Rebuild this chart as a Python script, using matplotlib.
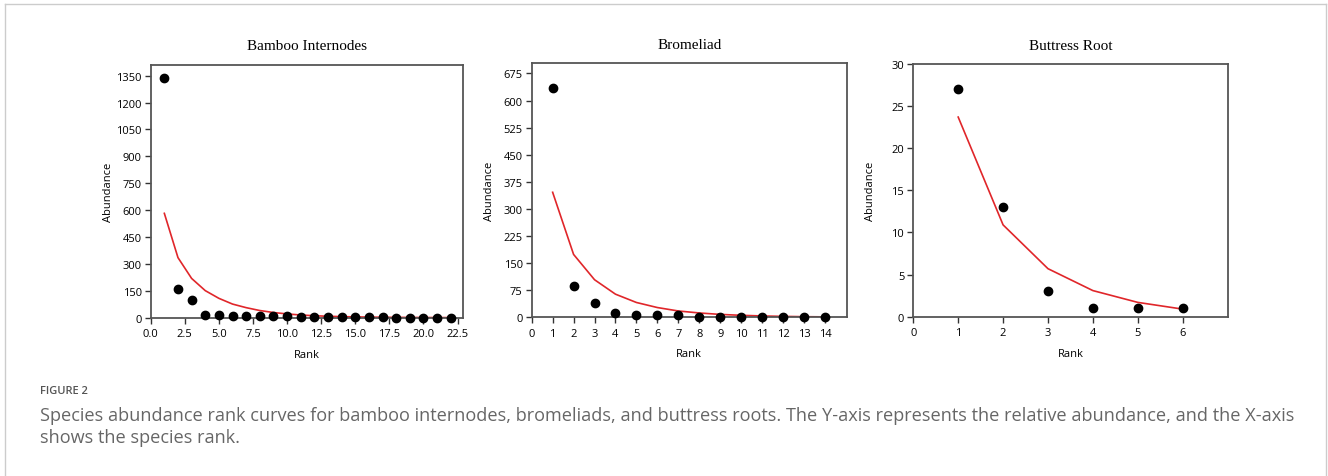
import numpy as np
import matplotlib
matplotlib.use("Agg")
import matplotlib.pyplot as plt
from matplotlib.lines import Line2D

plt.rcParams['font.family'] = ['Open Sans', 'DejaVu Sans']

# Bamboo internodes
bamboo_rank = list(range(1, 23))
bamboo_obs = [1335, 158, 100, 14, 13, 12, 11, 9, 8, 8, 4, 3, 3, 2, 2, 2, 2, 1, 1, 1, 1, 1]
bamboo_fit = [582, 335, 219, 151, 108, 76, 56, 40, 29, 21, 15, 11, 8, 6, 4.5, 3.3,
              2.5, 1.9, 1.4, 1.1, 0.8, 0.6]

# Bromeliad
brom_rank = list(range(1, 15))
brom_obs = [636, 87, 40, 11, 7, 5, 5, 2, 2, 1, 1, 1, 1, 1]
brom_fit = [346, 174, 104, 64, 41, 27, 17.5, 12, 8, 5.5, 3.7, 2.5, 1.7, 1.2]

# Buttress root
butt_rank = list(range(1, 7))
butt_obs = [27, 13, 3, 1, 1, 1]
butt_fit = [23.7, 10.9, 5.7, 3.1, 1.7, 0.9]

titles = ["Bamboo Internodes", "Bromeliad", "Buttress Root"]

W, H = 1328, 477
fig = plt.figure(figsize=(W / 100, H / 100), dpi=100)

# axes boxes in pixels: left, right, top, bottom
boxes = [(150.7, 463, 65.7, 318.7), (531.7, 846.7, 64.3, 318.3), (913.3, 1228, 65, 317.7)]

panels = [
    (bamboo_rank, bamboo_obs, bamboo_fit, (0, 22.9), np.arange(0, 22.6, 2.5), "{:.1f}",
     (0, 1411), np.arange(0, 1351, 150)),
    (brom_rank, brom_obs, brom_fit, (0, 15.04), np.arange(0, 15), "{:.0f}",
     (0, 703), np.arange(0, 676, 75)),
    (butt_rank, butt_obs, butt_fit, (0, 7.01), np.arange(0, 7), "{:.0f}",
     (0, 30), np.arange(0, 31, 5)),
]

spine_col = "#555555"
for (l, r, t, b), title, (rk, obs, fit, xl, xt, fmt, yl, yt) in zip(boxes, titles, panels):
    ax = fig.add_axes([l / W, (H - b) / H, (r - l) / W, (b - t) / H])
    ax.plot(rk, fit, color="#e0262a", lw=1.2, zorder=2)
    ax.plot(rk, obs, "o", color="black", ms=6, clip_on=False, zorder=3)
    ax.set_xlim(*xl)
    ax.set_ylim(*yl)
    ax.set_xticks(xt)
    ax.set_xticklabels([fmt.format(v) for v in xt])
    ax.set_yticks(yt)
    ax.tick_params(direction="out", length=4.5, width=1, color="#333333",
                   labelsize=8, pad=2)
    ax.tick_params(axis="x", pad=3)
    for s in ax.spines.values():
        s.set_color(spine_col)
        s.set_linewidth(1.3)
    ax.set_title(title, family="Liberation Serif", fontsize=11, pad=11)
    ax.set_xlabel("Rank", fontsize=8)
    ax.set_ylabel("Abundance", fontsize=8)
    ax.xaxis.set_label_coords(0.5, -31 / (b - t))
    ax.yaxis.set_label_coords(-37 / (r - l), 0.5)

# caption
fig.text(40 / W, 1 - 392 / H, "FIGURE 2", fontsize=8, color="#555555",
         weight="semibold", va="center")
fig.text(40 / W, 1 - 416 / H,
         "Species abundance rank curves for bamboo internodes, bromeliads, and buttress roots. "
         "The Y-axis represents the relative abundance, and the X-axis",
         fontsize=13.1, color="#666666", va="center")
fig.text(40 / W, 1 - 438 / H, "shows the species rank.", fontsize=13.1,
         color="#666666", va="center")

# light frame around the figure (open at the bottom)
fx0, fx1, fy = 4.5 / W, 1326 / W, 1 - 4.5 / H
for xs, ys in [([fx0, fx0], [0, fy]), ([fx0, fx1], [fy, fy]), ([fx1, fx1], [fy, 0])]:
    fig.add_artist(Line2D(xs, ys, color="#cccccc", lw=1, transform=fig.transFigure))

fig.savefig("out.png", dpi=100)
